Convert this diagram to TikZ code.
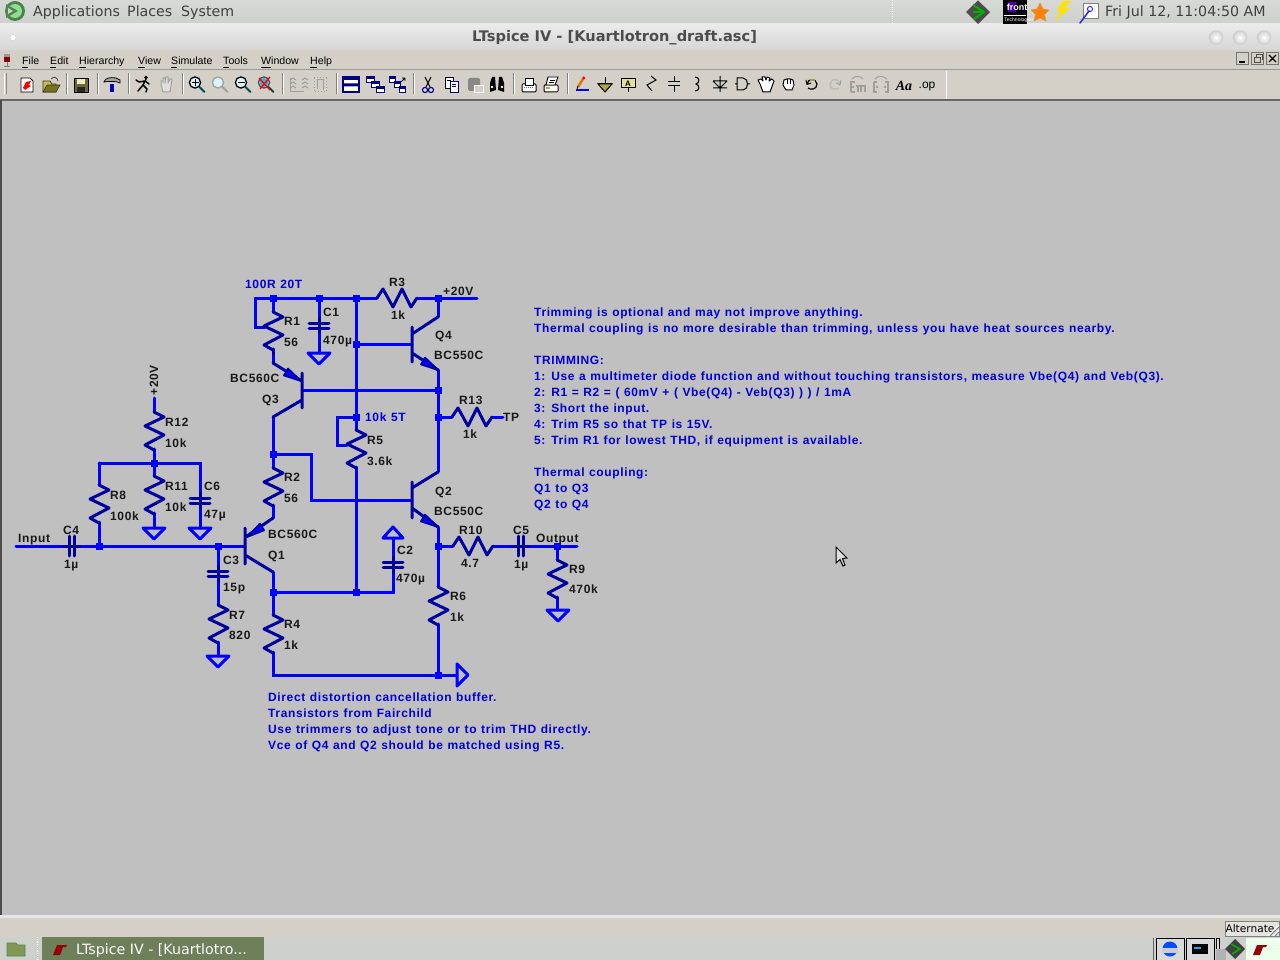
\documentclass[tikz,border=0pt]{standalone}
\usepackage{fontspec}
\setmainfont{Liberation Sans}
\newfontfamily\uifont{DejaVu Sans}
\newfontfamily\ltfont[LetterSpace=5.2,WordSpace=1.15]{Liberation Sans}
\newfontfamily\menufont{Liberation Sans}
\usetikzlibrary{calc}
\definecolor{wireblue}{RGB}{0,0,255}
\definecolor{compblue}{RGB}{0,0,160}
\definecolor{canvasgray}{RGB}{192,192,192}
\definecolor{chrome}{RGB}{212,208,200}
\definecolor{panelgray}{RGB}{205,208,205}
\definecolor{taskgreen}{RGB}{109,128,89}
\definecolor{notecolor}{RGB}{0,0,215}
\definecolor{ltred}{RGB}{150,0,10}
\definecolor{icongray}{RGB}{160,160,155}
\definecolor{navy}{RGB}{0,0,128}
\tikzset{
  wire/.style={draw=wireblue,line width=3pt,line cap=round,line join=miter},
  comp/.style={draw=compblue,line width=3pt,line cap=round,line join=round},
  gnd/.style={draw=wireblue,line width=3pt,line join=round},
  junc/.style={fill=wireblue,inner sep=0pt,minimum size=7pt,rectangle},
  lab/.style={font=\ltfont\fontsize{12}{14}\selectfont\bfseries,text=black!90,anchor=base west,inner sep=0pt,yshift=-4.5pt},
  note/.style={font=\ltfont\fontsize{12}{14}\selectfont\bfseries,text=notecolor,anchor=base west,inner sep=0pt,yshift=-4.5pt},
  menuitem/.style={font=\menufont\fontsize{10.6}{12}\selectfont,text=black,anchor=base west,inner sep=0pt,yshift=-4pt},
  ui/.style={font=\uifont\fontsize{14.2}{17}\selectfont,text=black!75,anchor=base west,inner sep=0pt,yshift=-5pt},
  sep/.style={draw=gray,line width=1pt},
}
\newcommand\ResV[2]{\draw[comp] (#1,#2) -- ++(10,5) -- ++(-19,9) -- ++(19,9) -- ++(-19,10) -- ++(9,5);}
\newcommand\ResH[2]{\draw[comp] (#1,#2) -- ++(6,-9) -- ++(10,18) -- ++(9,-18) -- ++(9,18) -- ++(6,-9);}
\newcommand\CapV[2]{\draw[comp] (#1-10,#2) -- ++(20,0) (#1-10,#2+5) -- ++(20,0) (#1,#2-5) -- ++(0,15);}
\newcommand\CapH[2]{\draw[comp] (#1,#2-10) -- ++(0,20) (#1+5,#2-10) -- ++(0,20) (#1-6,#2) -- ++(17,0);}
\newcommand\GndD[2]{\draw[gnd] (#1-11,#2) -- (#1+11,#2) -- (#1,#2+11) -- cycle;}
\newcommand\Wedge[6]{\draw[draw=compblue,fill=wireblue,line width=1.8pt,line join=round] (#1,#2) -- (#3,#4) -- (#5,#6) -- cycle;}
\newcommand\Sep[1]{\draw[sep] (#1,73) -- (#1,94); \draw[white,line width=1pt] (#1+1,73) -- (#1+1,94);}
\begin{document}
\begin{tikzpicture}[x=1pt,y=-1pt]
\useasboundingbox (0,0) rectangle (1280,960);
% ---- window chrome
\fill[canvasgray] (0,0) rectangle (1280,960);
\shade[top color=panelgray!80!white,bottom color=panelgray] (0,0) rectangle (1280,23);
\fill[white!95!black] (0,23) rectangle (1280,24);
\shade[top color=white!92!black,bottom color=white!84!black] (0,24) rectangle (1280,50);
\fill[chrome] (0,50) rectangle (1280,100);
\draw[gray!80,line width=1pt] (0,70) -- (1280,70);
\draw[black!60,line width=1.4pt] (0,100) -- (1280,100);
\draw[white,line width=1pt] (946,71) -- (946,99);
\draw[black!70,line width=1.5pt] (1,100) -- (1,915);
\fill[white!90!black] (0,915) rectangle (1280,918);
\fill[chrome] (0,918) rectangle (1280,937);
\fill[panelgray] (0,937) rectangle (1280,960);
% top panel
\fill[green!30!black!70] (15,11) circle (10pt);
\fill[panelgray!70!green] (15,11) circle (7pt);
\fill[green!35!black!70] (6,4) -- (18,11) -- (6,18) -- cycle;
\fill[panelgray] (8,8) -- (13,11) -- (8,14) -- cycle;
\node[ui] (apps) at (33,12) {Applications};
\node[ui] (places) at (127,12) {Places};
\node[ui] (sys) at (181,12) {System};
\draw[white,densely dotted,line width=.8pt] (892,0) -- (892,23);
\fill[black!70] (978,0.5) -- (990,12) -- (978,24) -- (966,12) -- cycle;
\draw[green!70!black,line width=2pt] (973,5) -- (984,12) -- (974,19) (973,12) -- (984,12);
\fill[black] (1003,0) rectangle (1027,24);
\fill[blue!70!red] (1008,2) rectangle (1016,12);
\node[font=\menufont\bfseries\fontsize{9}{9}\selectfont,text=white,inner sep=0pt] (fronttxt) at (1017,7) {front};
\draw[white,line width=.5pt] (1004,15) -- (1026,15);
\node[font=\menufont\fontsize{5}{5}\selectfont,text=white,inner sep=0pt] (fronttxt2) at (1019,20) {Technologies};
\fill[orange,draw=brown!80,line width=.6pt,line join=round] (1040,3) -- (1043,9) -- (1049,10) -- (1044.5,14.5) -- (1046,21) -- (1040,18) -- (1034,21) -- (1035.5,14.5) -- (1031,10) -- (1037,9) -- cycle;
\fill[yellow!85!orange] (1063,1) -- (1056,11) -- (1061,11) -- (1055,22) -- (1070,8) -- (1064,8) -- (1071,1) -- cycle;
\fill[white,draw=black!50,line width=.6pt] (1083,3) rectangle (1098,18);
\draw[blue!60!gray,line width=1.6pt,line cap=round] (1080,23) -- (1089,11);
\draw[blue!60!gray,line width=1pt] (1090,9) circle (2.6pt);
\node[ui] (clock) at (1105,12) {Fri Jul 12, 11:04:50 AM};
% title bar
\node[font=\uifont\fontsize{14.6}{17}\selectfont\bfseries,text=black!70,inner sep=0pt] (title) at (614.5,38) {\fontspec{DejaVu Sans}\fontsize{14.6}{17}\selectfont LTspice IV - [Kuartlotron\_draft.asc]};
\foreach \cx in {1216,1240,1264} \shade[inner color=white,outer color=white!82!black,draw=white!78!black] (\cx,37.5) circle (7pt);
\fill[white,draw=white!80!black,line width=.4pt] (13,37.5) circle (3pt);
% menu
\fill[red!55!black] (4,57) rectangle (10,62);
\draw[black!50,line width=1pt] (7,62) -- (7,67) (4,67) -- (10,67);
\fill[black!40] (4,54) rectangle (10,57);
\node[menuitem] (mFile) at (22,61) {File};
\node[menuitem] (mEdit) at (50,61) {Edit};
\node[menuitem] (mHier) at (79,61) {Hierarchy};
\node[menuitem] (mView) at (138,61) {View};
\node[menuitem] (mSim) at (171,61) {Simulate};
\node[menuitem] (mTools) at (223,61) {Tools};
\node[menuitem] (mWin) at (261,61) {Window};
\node[menuitem] (mHelp) at (310,61) {Help};
\draw[black,line width=.7pt] (22,67) -- ++(6,0) (50,67) -- ++(6,0) (79,67) -- ++(7,0) (138,67) -- ++(7,0) (171,67) -- ++(6,0) (223,67) -- ++(6,0) (261,67) -- ++(10,0) (310,67) -- ++(7,0);
\foreach \bx in {1236,1251,1266} {\fill[chrome,draw=black!55,line width=.8pt] (\bx,52.5) rectangle ++(12,12);}
\draw[black,line width=1.2pt] (1239,62) -- (1245,62);
\draw[black!70,line width=.8pt] (1254,57) rectangle (1260,62.5) (1256,57) -- (1256,54.5) -- (1262,54.5) -- (1262,60);
\draw[black,line width=1.1pt] (1269,55) -- (1276,62) (1276,55) -- (1269,62);
% toolbar separators
\draw[black!45,line width=1pt] (6,73) -- (6,94);
\draw[white,line width=1pt] (4,73) -- (4,94);
\foreach \sx in {66,97,128,182,282,336,413,513,567} {\Sep{\sx}}
% new
\fill[white,draw=black,line width=.8pt] (21,78) -- (30,78) -- (33,81) -- (33,92) -- (21,92) -- cycle;
\fill[red] (23,88) -- (26,82) -- (31,81) -- (29,85) -- (31,86) -- (25,90) -- cycle;
% open
\fill[yellow!70!black!85,draw=black!80,line width=.8pt] (43,92) -- (43,81) -- (50,81) -- (52,84) -- (56,84) -- (56,92) -- cycle;
\fill[olive!80!black,draw=black!80,line width=.6pt] (43,92) -- (47,85) -- (60,85) -- (56,92) -- cycle;
\draw[black!70,line width=.8pt] (51,79) .. controls (54,76) and (57,77) .. (58,81);
% save
\fill[olive!55!black!90,draw=black,line width=.8pt] (74,78) rectangle (88,92);
\fill[white!85!olive] (77,79) rectangle (85,84);
\fill[black!85] (77,87) rectangle (85,92);
% hammer
\fill[blue!75!black] (110,84) rectangle (114,92);
\fill[gray!70,draw=black,line width=.8pt] (104,82) .. controls (105,78) and (110,77) .. (116,78) -- (120,80) -- (120,83) .. controls (116,81) and (110,81) .. (104,82) -- cycle;
% run
\draw[black,line width=1.5pt,line cap=round,line join=round] (146,79) -- (143,85) -- (138,91) (143,85) -- (147,89) -- (146,92) (136,80) -- (139,82) -- (145,81) -- (149,84);
\fill[black] (146,77.5) circle (1.8pt);
% hand gray
\draw[icongray,line width=1pt,fill=chrome!70!white,line join=round] (161,85) -- (161,81) -- (163,81) -- (163,83) -- (163,78) -- (165,78) -- (165,83) -- (166,77) -- (168,77) -- (168,83) -- (170,79) -- (172,79) -- (171,86) -- (170,92) -- (163,92) -- cycle;
% zooms
\foreach \zx/\zc/\hc in {195/black/teal!60!black,218/icongray/icongray,241/black/teal!60!black,264/black!70/teal!60!black}{
  \fill[white!85!cyan,draw=\zc,line width=1.3pt] (\zx,82.5) circle (5.6pt);
  \draw[\hc,line width=2pt,line cap=round] (\zx+4.5,87) -- (\zx+9.5,92);
}
\draw[black,line width=1pt] (191.5,82.5) -- (198.5,82.5) (195,79) -- (195,86);
\draw[black,line width=1pt] (237.5,82.5) -- (244.5,82.5);
\fill[cyan!70!gray] (264,82.5) circle (4.5pt);
\draw[red,line width=1.3pt] (259,78) -- (270,90) (270,77) -- (260,89);
% disabled wave icons
\foreach \gx in {291,303}{\draw[icongray,line width=1pt] (\gx-1,80)--(\gx+2,78)--(\gx+5,80) (\gx-1,84)--(\gx+2,82)--(\gx+5,84)(\gx-1,88)--(\gx+2,86)--(\gx+5,88);}
\draw[icongray,line width=1pt] (290,78) -- (290,92) -- (304,92);
\draw[icongray,dotted,line width=1pt] (314,78) rectangle (326,92);
\draw[icongray,line width=1pt] (317,89) -- (317,80) (317,80) -- (323,80) -- (323,90);
% windows
\draw[navy,fill=white,line width=1.2pt] (343,77) rectangle (359,92);
\fill[navy] (343,77) rectangle (359,80) (343,83.5) rectangle (359,86.5);
\foreach \wx/\wy in {366/77,371/82,376/87}{\fill[white,draw=navy,line width=1pt] (\wx,\wy) rectangle ++(8,5.5); \fill[navy] (\wx,\wy) rectangle ++(8,2);}
\foreach \wx/\wy in {389/77,394/82,399/87}{\fill[white,draw=navy,line width=1pt] (\wx,\wy) rectangle ++(6,5.5); \fill[navy] (\wx,\wy) rectangle ++(6,2);}
\draw[black,line width=.9pt] (401,82) -- (405,78) (402,78) -- (405,78) -- (405,81);
% scissors, copy, paste, binoculars
\draw[black,line width=1pt] (425,77) -- (430,87) (431,77) -- (426,87);
\draw[navy,line width=1.1pt] (425,90) circle (2.6pt) (431,90) circle (2.6pt);
\fill[white,draw=black,line width=.9pt] (445,77) rectangle (453,88);
\fill[white,draw=navy,line width=.9pt] (450,81) rectangle (458,92);
\draw[navy,line width=.7pt] (452,84) -- (456,84) (452,86.5) -- (456,86.5);
\draw[black,line width=.7pt] (447,80) -- (451,80);
\fill[icongray!85!black,rounded corners=1.5pt] (468,78) rectangle (480,91);
\draw[white,fill=chrome,line width=.8pt] (474,85) rectangle (483,92);
\fill[black] (490,83) -- (492,77) -- (495,77) -- (496,90) -- (490,92) -- cycle (504,83) -- (502,77) -- (499,77) -- (498,90) -- (504,92) -- cycle;
\fill[white] (492,87) circle (1.3pt) (502,87) circle (1.3pt);
% print preview, printer
\fill[white,draw=black,line width=1pt,rounded corners=1pt] (522,84) rectangle (536,92);
\fill[white,draw=black,line width=.9pt] (525,78) rectangle (533,85);
\draw[black!60,densely dotted,line width=1pt] (524,88) -- (534,88);
\fill[white,draw=black,line width=1pt,rounded corners=1pt] (544,85) rectangle (558,92);
\fill[white,draw=black,line width=.9pt] (548,77) -- (558,77) -- (555,85) -- (546,85) -- cycle;
\draw[black,line width=.7pt] (550,80) -- (555,80) (549,82) -- (554,82);
\fill[yellow!70!black] (546,87) rectangle (550,89);
% pencil, ground, label
\draw[blue,line width=1.1pt] (576,90) -- (589,90);
\draw[orange!90!black,line width=2.4pt] (578,87) -- (583,79);
\draw[red,line width=2.4pt] (583,79) -- (584.5,77);
\draw[black,line width=.7pt] (577,89) -- (578,86);
\draw[black,line width=1pt] (605,77) -- (605,83) (598,84) -- (612,84);
\fill[olive!60!chrome,draw=black,line width=1pt] (598,84) -- (612,84) -- (605,92) -- cycle;
\fill[yellow!30!chrome,draw=black,line width=1pt] (621,79) rectangle (635,88);
\node[font=\menufont\fontsize{8}{8}\selectfont\bfseries,inner sep=0pt,text=black] (iconA) at (628,83.5) {A};
\draw[black,line width=1pt] (628,88) -- (628,92);
% R, C, L, diode, gate
\draw[black,line width=1pt] (651,76) -- (656,80) -- (647,85) -- (652,91);
\draw[black,line width=1pt] (674,76) -- (674,82) (668,82) -- (680,82) (668,86) -- (680,86) (674,86) -- (674,92);
\draw[black,line width=1pt] (695,77) .. controls (700,77) and (700,83) .. (696,84) .. controls (700,85) and (700,91) .. (695,91);
\draw[black,line width=1pt] (720,76) -- (720,92) (713,81) -- (727,81) (713,81) -- (720,88) -- (727,81) (713,88) -- (727,88);
\draw[black,line width=1pt] (735,84) -- (737,84) (737,78) -- (743,78) .. controls (749,78) and (749,90) .. (743,90) -- (737,90) -- cycle (747,84) -- (750,84);
% hands
\fill[white,draw=black,line width=1pt,line join=round] (760,84) -- (758,80) -- (761,79) -- (763,81) -- (762,77) -- (765,77) -- (766,80) -- (767,77) -- (770,78) -- (769,81) -- (772,79) -- (774,81) -- (770,92) -- (763,92) -- cycle;
\fill[white,draw=black,line width=1pt,line join=round] (783,85) -- (784,80) -- (787,79) -- (790,79) -- (793,80) -- (794,85) -- (792,90) -- (786,90) -- cycle;
\draw[black,line width=.7pt] (787,79) -- (787,84) (790,79) -- (790,84);
% undo, redo
\draw[black,line width=1.2pt] (807,84) .. controls (808,78) and (816,78) .. (817,84) .. controls (817,90) and (810,90) .. (808,88);
\draw[yellow!60!black,line width=1.2pt] (810,80) -- (815,80);
\draw[black,line width=1pt] (806,80) -- (807,84.5) -- (811,83);
\draw[icongray!70!white,line width=1.5pt] (840,84) .. controls (839,78) and (831,78) .. (830,84) .. controls (830,90) and (837,90) .. (839,88);
\draw[icongray,line width=1pt] (841,80) -- (840,85) -- (836,83);
% disabled hierarchy icons
\draw[icongray,line width=1.1pt] (851,92) -- (851,82) -- (855,82) (851,87) -- (854,87) (851,92) -- (855,92) (856,86) -- (865,86) -- (865,92) (858,86) -- (858,92) (861,86) -- (861,92);
\draw[icongray,line width=1pt] (852,79) .. controls (855,75) and (861,76) .. (863,79);
\draw[icongray,line width=1.1pt] (874,82) -- (874,92) -- (877,92) (874,82) -- (877,82) (885,82) -- (888,82) -- (888,92) -- (885,92) (876,87) -- (878,87) (884,87) -- (886,87);
\draw[icongray,line width=1pt] (875,79) .. controls (878,75) and (884,76) .. (887,79);
% Aa .op
\node[font=\fontspec{Liberation Serif}\bfseries\itshape\fontsize{14}{14}\selectfont,text=black,inner sep=0pt] (iconAa) at (904,86) {Aa};
\node[font=\menufont\fontsize{12}{12}\selectfont,text=black,inner sep=0pt] (iconOp) at (927,87) {.op};
% taskbar
\fill[olive!40!gray!80!green] (7,943) -- (16,943) -- (18,945) -- (25,945) -- (25,956) -- (7,956) -- cycle;
\draw[black!40!green!40!gray,line width=.6pt] (7,943) -- (16,943) -- (18,945) -- (25,945) -- (25,956) -- (7,956) -- cycle;
\draw[white,densely dotted,line width=.8pt] (37,937) -- (37,960);
\fill[taskgreen] (42,937) rectangle (264,960);
\fill[ltred] (53,955) -- (57,945) -- (67,945) -- (66,947) -- (63,947) -- (60,955) -- cycle;
\node[ui,text=white,font=\uifont\fontsize{14.2}{17}\selectfont] (tasktxt) at (76,949) {LTspice IV - [Kuartlotro...};
\draw[black!60,line width=1pt] (1153,938) -- (1153,960);
\foreach \tx/\tw in {1156/28,1186/28,1216/3}{\fill[white!85!black,draw=black,line width=1pt] (\tx,938) rectangle ++(\tw,22);}
\fill[gray!60] (1216,949) rectangle (1226,960);
\fill[blue!70!cyan] (1170,949) circle (7.5pt);
\fill[white!80!black] (1162,948) -- (1178,948) -- (1178,953) -- (1162,953) -- cycle;
\fill[black] (1192,944) rectangle (1208,954);
\fill[cyan] (1194,947) rectangle (1201,949);
\fill[black!75] (1235,939) -- (1245,949) -- (1235,959) -- (1225,949) -- cycle;
\draw[green!70!black,line width=1.6pt] (1231,944) -- (1240,949) -- (1232,954);
\fill[green!8!white] (1246,938) rectangle (1280,960);
\fill[ltred] (1253,955) -- (1257,945) -- (1267,945) -- (1266,947) -- (1263,947) -- (1260,955) -- cycle;
\draw[black!50,fill=chrome!60!white,line width=.8pt] (1225,921) -- (1279,921) -- (1279,936) -- (1225,936) -- cycle;
\node[font=\uifont\fontsize{10.6}{12}\selectfont,text=black,inner sep=0pt] (alt) at (1250,929) {Alternate};
\draw[white,line width=.8pt] (1268,936) -- (1279,925) (1273,936) -- (1279,930);
\draw[gray,line width=.8pt] (1270,936) -- (1279,927) (1275,936) -- (1279,932);
% ---- schematic points
\coordinate (tl) at (255,298); \coordinate (j273) at (273,298); \coordinate (j319) at (319,298);
\coordinate (j356) at (356,298); \coordinate (r3a) at (377,298); \coordinate (r3b) at (417,298);
\coordinate (j438) at (438,298); \coordinate (vcc) at (477,298);
\coordinate (ll) at (255,327); \coordinate (r1x) at (265,327);
\coordinate (q3e) at (273,363); \coordinate (q3c) at (273,417); \coordinate (j454) at (273,454);
\coordinate (q1e) at (273,518); \coordinate (q1c) at (273,572); \coordinate (j592) at (273,592);
\coordinate (j592b) at (356,592); \coordinate (c2b) at (393,592);
\coordinate (bl) at (273,675); \coordinate (j675) at (438,675); \coordinate (gndR) at (457,675);
\coordinate (j344) at (356,344); \coordinate (q4b) at (412,344);
\coordinate (q3b) at (302,390); \coordinate (j390) at (438,390);
\coordinate (j417) at (356,417); \coordinate (j417r) at (438,417); \coordinate (r13a) at (452,417);
\coordinate (r13b) at (492,417); \coordinate (tp) at (503,417);
\coordinate (lp5) at (337,417); \coordinate (lp5b) at (337,445); \coordinate (r5x) at (347,445);
\coordinate (q4c) at (438,317); \coordinate (q4e) at (438,370); \coordinate (q2c) at (438,472);
\coordinate (q2e) at (438,527); \coordinate (j546) at (438,546);
\coordinate (r10a) at (453,546); \coordinate (r10b) at (493,546); \coordinate (j557) at (557,546); \coordinate (out) at (577,546);
\coordinate (q2bw) at (311,454); \coordinate (q2bw2) at (311,500); \coordinate (q2b) at (412,500);
\coordinate (inp) at (16,546); \coordinate (j99) at (99,546); \coordinate (j218) at (218,546); \coordinate (q1b) at (245,546);
\coordinate (j463) at (154,463); \coordinate (t99) at (99,463); \coordinate (t200) at (200,463); \coordinate (t154) at (154,398);
% wires
\draw[wire] (r3a) -- (tl) -- (ll) -- (r1x);
\draw[wire] (r3b) -- (vcc);
\draw[wire] (j273) -- (273,312) (273,349) -- (q3e);
\draw[wire] (j319) -- (319,353);
\draw[wire] (j356) -- (356,430) (356,467) -- (j592b);
\draw[wire] (j438) -- (q4c) (q4e) -- (q2c) (q2e) -- (438,587) (438,624) -- (j675);
\draw[wire] (j344) -- (q4b);
\draw[wire] (q3b) -- (j390);
\draw[wire] (j417) -- (lp5) -- (lp5b) -- (r5x);
\draw[wire] (j417r) -- (r13a) (r13b) -- (tp);
\draw[wire] (q3c) -- (273,468) (273,505) -- (q1e);
\draw[wire] (j454) -- (q2bw) -- (q2bw2) -- (q2b);
\draw[wire] (q1c) -- (273,615) (273,652) -- (bl) -- (gndR);
\draw[wire] (j592) -- (c2b) -- (393,538);
\draw[wire] (j546) -- (r10a) (r10b) -- (521,546) (521,546) -- (out);
\draw[wire] (557,546) -- (557,560) (557,597) -- (557,610);
\draw[wire] (inp) -- (q1b);
\draw[wire] (t154) -- (154,412) (154,449) -- (154,476) (154,513) -- (154,528);
\draw[wire] (t99) -- (t200) -- (200,528);
\draw[wire] (t99) -- (99,485) (99,522) -- (j99);
\draw[wire] (j218) -- (218,605) (218,642) -- (218,656);
% resistors
\ResV{273}{312}\ResV{356}{430}\ResV{273}{468}\ResV{273}{615}\ResV{438}{587}\ResV{557}{560}
\ResV{154}{412}\ResV{154}{476}\ResV{99}{485}\ResV{218}{605}
\ResH{377}{298}\ResH{452}{417}\ResH{453}{546}
\draw[comp] (273,349) -- (273,354);
% capacitors
\CapV{319}{323}\CapV{393}{562}\CapV{218}{571}\CapV{200}{498}
\CapH{69}{546}\CapH{518.5}{546}
% grounds
\GndD{319}{353}\GndD{154}{528}\GndD{200}{528}\GndD{218}{656}\GndD{558}{610}
\draw[gnd] (383,538) -- (403,538) -- (393,527) -- cycle;
\draw[gnd] (457,664) -- (468,675) -- (457,686) -- cycle;
% transistors
\draw[comp] (302,373) -- (302,408) (q3e) -- (302,381) (302,400) -- (q3c);
\draw[comp] (245,528) -- (245,564) (q1e) -- (247,536) (245,555) -- (q1c);
\draw[comp] (412,327) -- (412,362) (412,334) -- (q4c) (412,353) -- (q4e);
\draw[comp] (412,482) -- (412,518) (412,488) -- (q2c) (412,508) -- (q2e);
\Wedge{301}{381}{284}{375.4}{288}{368.6}
\Wedge{247}{537}{264}{530.3}{260}{523.7}
\Wedge{438}{370}{421}{364.4}{425}{357.6}
\Wedge{438}{527}{421}{521.4}{425}{514.6}
% junctions
\node[junc] (J1) at (j273) {}; \node[junc] (J2) at (j319) {}; \node[junc] (J3) at (j356) {};
\node[junc] (J4) at (j438) {}; \node[junc] (J5) at (j344) {}; \node[junc] (J6) at (j390) {};
\node[junc] (J7) at (j417) {}; \node[junc] (J8) at (j417r) {}; \node[junc] (J9) at (j454) {};
\node[junc] (J10) at (j592) {}; \node[junc] (J11) at (j592b) {}; \node[junc] (J12) at (j546) {};
\node[junc] (J13) at (j557) {}; \node[junc] (J14) at (j675) {}; \node[junc] (J15) at (j99) {};
\node[junc] (J16) at (j218) {}; \node[junc] (J17) at (j463) {};
% labels
\node[note] (l1) at (245,284) {100R 20T};
\node[note] (l2) at (365,417) {10k 5T};
\foreach \n/\px/\py/\txt in {a1/389/282/R3,a2/391/315/1k,a3/443/291/+20V,a4/284/321/R1,a5/284/342/56,a6/323/312/C1,a7/323/340/470µ,a8/435/335/Q4,a9/434/355/BC550C,a10/230/378/BC560C,a11/262/399/Q3,a12/459/400/R13,a13/463/434/1k,a14/503/417/TP,a15/367/440/R5,a16/367/461/3.6k,a17/284/477/R2,a18/284/498/56,a19/435/491/Q2,a20/434/511/BC550C,a21/268/534/BC560C,a22/268/555/Q1,a23/165/422/R12,a24/165/443/10k,a25/165/486/R11,a26/165/507/10k,a27/204/486/C6,a28/204/514/47µ,a29/110/495/R8,a30/110/516/100k,a31/18/538/Input,a32/63/530/C4,a33/64/564/1µ,a34/223/560/C3,a35/223/587/15p,a36/229/615/R7,a37/229/635/820,a38/284/624/R4,a39/284/645/1k,a40/397/550/C2,a41/396/578/470µ,a42/459/530/R10,a43/461/563/4.7,a44/513/530/C5,a45/514/564/1µ,a46/536/538/Output,a47/569/569/R9,a48/569/589/470k,a49/450/596/R6,a50/450/617/1k}{
  \node[lab] (\n) at (\px,\py) {\txt};
}
\node[lab,rotate=90,anchor=center] (a51) at (154,376) {+20V};
% notes
\node[note] (n1) at (534,312) {Trimming is optional and may not improve anything.};
\node[note] (n2) at (534,328) {Thermal coupling is no more desirable than trimming, unless you have heat sources nearby.};
\node[note] (n3) at (534,360) {TRIMMING:};
\node[note] (n4) at (534,376) {1: Use a multimeter diode function and without touching transistors, measure Vbe(Q4) and Veb(Q3).};
\node[note] (n5) at (534,392) {2: R1 = R2 = ( 60mV + ( Vbe(Q4) - Veb(Q3) ) ) / 1mA};
\node[note] (n6) at (534,408) {3: Short the input.};
\node[note] (n7) at (534,424) {4: Trim R5 so that TP is 15V.};
\node[note] (n8) at (534,440) {5: Trim R1 for lowest THD, if equipment is available.};
\node[note] (n9) at (534,472) {Thermal coupling:};
\node[note] (n10) at (534,488) {Q1 to Q3};
\node[note] (n11) at (534,504) {Q2 to Q4};
\node[note] (n12) at (268,697) {Direct distortion cancellation buffer.};
\node[note] (n13) at (268,713) {Transistors from Fairchild};
\node[note] (n14) at (268,729) {Use trimmers to adjust tone or to trim THD directly.};
\node[note] (n15) at (268,745) {Vce of Q4 and Q2 should be matched using R5.};
% cursor
\draw[fill=canvasgray!50!white,draw=black,line width=1pt,line join=miter] (836,547) -- (836,563) -- (840,559.5) -- (843,566) -- (845,565) -- (842.5,558.5) -- (847,558) -- cycle;
\end{tikzpicture}
\end{document}
